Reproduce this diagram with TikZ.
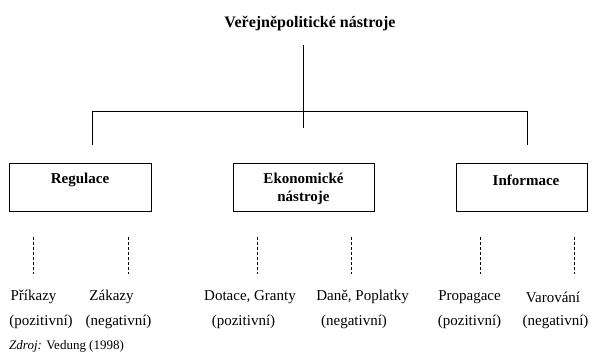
\documentclass[tikz,border=0pt]{standalone}
\usepackage{fontspec}
\setmainfont{Liberation Serif}
\begin{document}
\begin{tikzpicture}[x=1pt,y=-1pt,
  lbl/.style={font=\fontsize{15}{18}\selectfont\bfseries, align=center, inner sep=0pt},
  txt/.style={font=\fontsize{15}{18}\selectfont, inner sep=0pt},
  box/.style={draw, line width=0.8pt, inner sep=0pt},
  conn/.style={line width=0.8pt},
  dashline/.style={line width=0.6pt, dash pattern=on 3pt off 2pt}
]
\useasboundingbox (0,0) rectangle (592,353);
\node[lbl, font=\fontsize{16}{19}\selectfont\bfseries] (title) at (310,24) {Veřejněpolitické nástroje};
\coordinate (ctop) at (303,45);
\coordinate (cbot) at (303,128);
\coordinate (hl) at (92,111);
\coordinate (hr) at (527,111);
\coordinate (hlb) at (92,145);
\coordinate (hrb) at (527,145);
\draw[conn] (ctop) -- (cbot);
\draw[conn] (hlb) -- (hl) -- (hr) -- (hrb);

\node[box, minimum width=142pt, minimum height=48pt] (reg) at (80,187) {};
\node[box, minimum width=141pt, minimum height=48pt] (eko) at (303.5,187) {};
\node[box, minimum width=131pt, minimum height=48pt] (inf) at (521.5,187) {};
\node[lbl] (regl) at (80,180) {Regulace};
\node[lbl] (ekol) at (303.5,189) {Ekonomické\\nástroje};
\node[lbl] (infl) at (526,180) {Informace};

\foreach \n/\x in {d1/33,d2/128,d3/257,d4/351,d5/480,d6/574}{
  \coordinate (\n a) at (\x,237);
  \coordinate (\n b) at (\x,274);
  \draw[dashline] (\n a) -- (\n b);
}

\node[txt] (t1) at (33.5,297) {Příkazy};
\node[txt] (t2) at (111.5,297) {Zákazy};
\node[txt] (t3) at (250,297) {Dotace, Granty};
\node[txt] (t4) at (362.5,297) {Daně, Poplatky};
\node[txt] (t5) at (469.5,297) {Propagace};
\node[txt] (t6) at (553,297) {Varování};

\node[txt] (p1) at (41,322) {(pozitivní)};
\node[txt] (p2) at (118.5,322) {(negativní)};
\node[txt] (p3) at (243.5,322) {(pozitivní)};
\node[txt] (p4) at (354,322) {(negativní)};
\node[txt] (p5) at (469.5,322) {(pozitivní)};
\node[txt] (p6) at (555.5,322) {(negativní)};

\node[txt, anchor=west, font=\fontsize{13}{16}\selectfont] (src) at (9,346) {\textit{Zdroj:} Vedung (1998)};
\end{tikzpicture}
\end{document}
